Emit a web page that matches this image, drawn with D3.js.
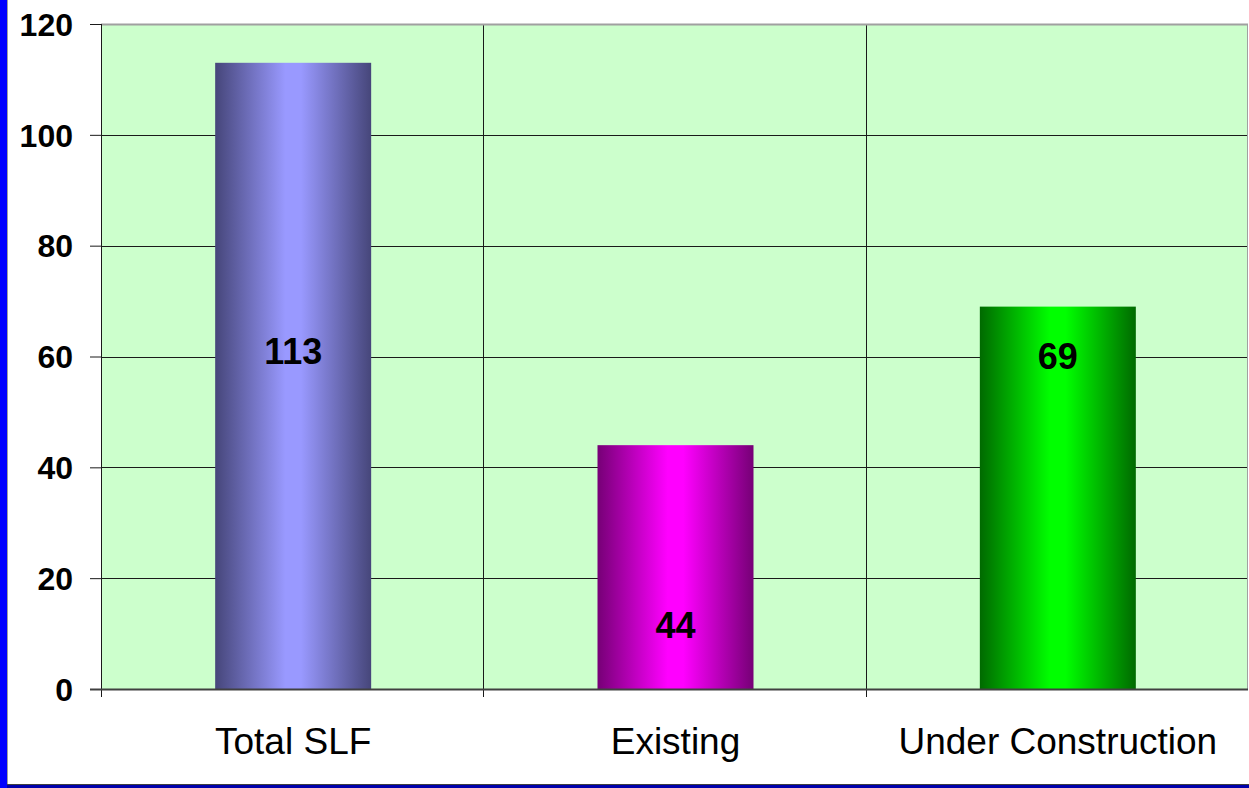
<!DOCTYPE html>
<html>
<head>
<meta charset="utf-8">
<script src="https://cdn.jsdelivr.net/npm/d3@7"></script>
<style>
  html, body { margin: 0; padding: 0; background: #fff; }
  #chart { width: 1249px; height: 788px; }
</style>
</head>
<body>
<div id="chart"></div>
<script>
const categories = ["Total SLF", "Existing", "Under Construction"];
const values = [113, 44, 69];
const labelAt = [61, 11.5, 60];   // where the value labels sit, in data units
const yTicks = [0, 20, 40, 60, 80, 100, 120];
const barColors = [
    { edge: "#46467a", mid: "#9999ff" },
    { edge: "#760076", mid: "#ff00ff" },
    { edge: "#006a00", mid: "#00ff00" }
];

const W = 1249, H = 788;
const margin = { top: 24, right: 1, bottom: 99, left: 101 };
const width = W - margin.left - margin.right;
const height = H - margin.top - margin.bottom;

const root = d3.select("#chart").append("svg")
    .attr("width", W)
    .attr("height", H);

// frame strips (slide border)
root.append("rect").attr("x", 0).attr("y", 0).attr("width", 7).attr("height", H).attr("fill", "#0000ff");
root.append("line").attr("x1", 7.5).attr("x2", 7.5).attr("y1", 0).attr("y2", 785).attr("stroke", "#a0a0a0");
root.append("rect").attr("x", 7).attr("y", 785).attr("width", W).attr("height", 3).attr("fill", "#0000aa");
root.append("line").attr("x1", 7).attr("x2", W).attr("y1", 784.5).attr("y2", 784.5).attr("stroke", "#404040");

const defs = root.append("defs");
barColors.forEach((c, i) => {
    const g = defs.append("linearGradient").attr("id", "grad" + i)
        .attr("x1", "0%").attr("x2", "100%").attr("y1", "0%").attr("y2", "0%");
    g.append("stop").attr("offset", "0%").attr("stop-color", c.edge);
    g.append("stop").attr("offset", "45%").attr("stop-color", c.mid);
    g.append("stop").attr("offset", "55%").attr("stop-color", c.mid);
    g.append("stop").attr("offset", "100%").attr("stop-color", c.edge);
});

const svg = root.append("g")
    .attr("transform", `translate(${margin.left},${margin.top})`);

const x = d3.scaleBand()
    .domain(categories)
    .range([0, width])
    .paddingInner(0)
    .paddingOuter(0);

const y = d3.scaleLinear()
    .domain([0, 120])
    .range([height, 0]);

// plot background
svg.append("rect")
    .attr("width", width)
    .attr("height", height)
    .attr("fill", "#ccffcc");

// horizontal gridlines
svg.selectAll(".hgrid")
    .data(yTicks.filter(d => d > 0 && d < 120))
    .enter().append("line")
    .attr("x1", 0).attr("x2", width)
    .attr("y1", d => Math.round(y(d)) + 0.5)
    .attr("y2", d => Math.round(y(d)) + 0.5)
    .attr("stroke", "#1a1a1a")
    .attr("stroke-width", 1);

// vertical category separators
const bounds = categories.slice(1).map(c => x(c));
svg.selectAll(".vgrid")
    .data(bounds)
    .enter().append("line")
    .attr("x1", d => Math.round(d) + 0.5).attr("x2", d => Math.round(d) + 0.5)
    .attr("y1", 0).attr("y2", height + 8)
    .attr("stroke", "#1a1a1a");

// top & right border
svg.append("line").attr("x1", 0).attr("x2", width).attr("y1", 0.5).attr("y2", 0.5)
    .attr("stroke", "#a0a0a0").attr("stroke-width", 2);
svg.append("line").attr("x1", width - 0.5).attr("x2", width - 0.5).attr("y1", 0).attr("y2", height)
    .attr("stroke", "#a0a0a0");

// bars
const barW = x.bandwidth() * 0.408;
svg.selectAll(".bar")
    .data(values)
    .enter().append("rect")
    .attr("class", "bar")
    .attr("x", (d, i) => x(categories[i]) + x.bandwidth() / 2 - barW / 2 + 1)
    .attr("y", d => y(d))
    .attr("width", barW)
    .attr("height", d => height - y(d))
    .attr("fill", (d, i) => `url(#grad${i})`);

// y axis
const yAxis = svg.append("g")
    .call(d3.axisLeft(y).tickValues(yTicks).tickSize(11).tickPadding(17));
yAxis.select(".domain").attr("stroke", "#1a1a1a").attr("d", `M0.5,0V${height + 8}`);
yAxis.selectAll(".tick line").attr("stroke", "#1a1a1a");
yAxis.selectAll("text")
    .attr("font-family", "Liberation Sans, Arial, sans-serif")
    .attr("font-size", "32px")
    .attr("font-weight", "bold")
    .attr("fill", "#000")
    .attr("dy", "0.35em");

// x axis line
svg.append("line").attr("x1", -11).attr("x2", width).attr("y1", height + 0.5).attr("y2", height + 0.5)
    .attr("stroke", "#404040").attr("stroke-width", 2);

// category labels
svg.selectAll(".cat")
    .data(categories)
    .enter().append("text")
    .attr("x", d => x(d) + x.bandwidth() / 2 + 1)
    .attr("y", height + 65)
    .attr("text-anchor", "middle")
    .attr("font-family", "Liberation Sans, Arial, sans-serif")
    .attr("font-size", "37px")
    .attr("fill", "#000")
    .text(d => d);

// value labels
svg.selectAll(".label")
    .data(values)
    .enter().append("text")
    .attr("x", (d, i) => x(categories[i]) + x.bandwidth() / 2 + 1)
    .attr("y", (d, i) => y(labelAt[i]))
    .attr("dy", "0.35em")
    .attr("text-anchor", "middle")
    .attr("font-family", "Liberation Sans, Arial, sans-serif")
    .attr("font-size", "36px")
    .attr("font-weight", "bold")
    .attr("fill", "#000")
    .text(d => d);
</script>
</body>
</html>
